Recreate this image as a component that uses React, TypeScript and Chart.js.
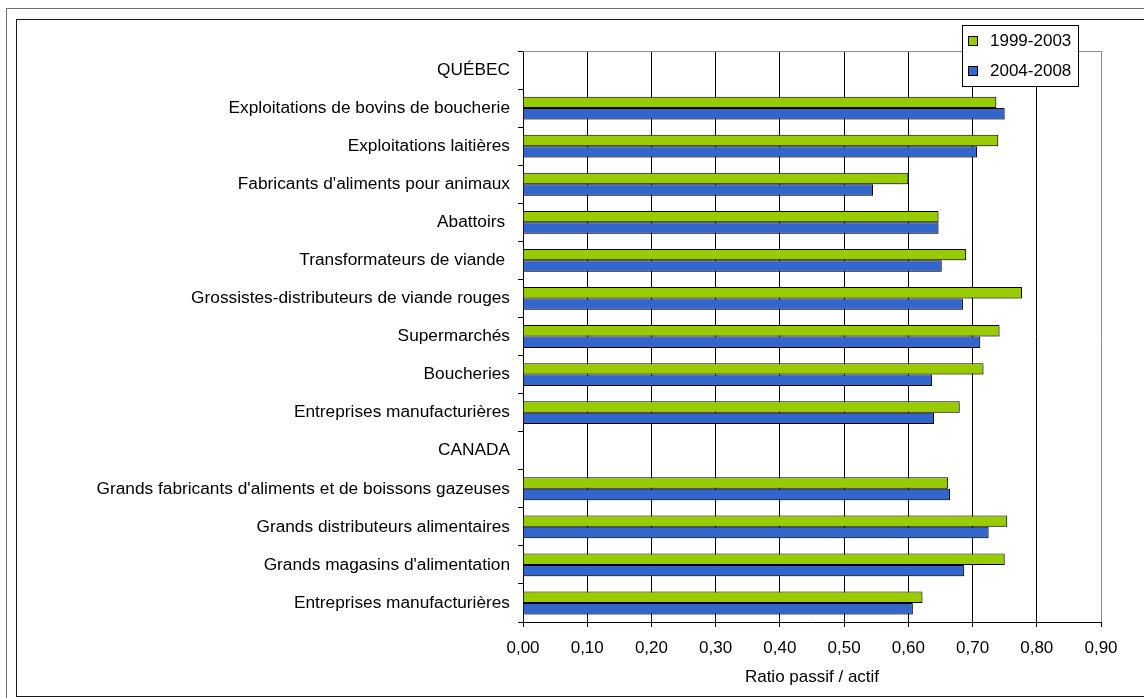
import { useEffect, useRef } from 'react';
import { Chart, registerables } from 'chart.js';

Chart.register(...registerables);

// Secteurs (ordre d'affichage, de haut en bas)
const categories = [
  'QUÉBEC',
  'Exploitations de bovins de boucherie',
  'Exploitations laitières',
  "Fabricants d'aliments pour animaux",
  'Abattoirs ',
  'Transformateurs de viande ',
  'Grossistes-distributeurs de viande rouges',
  'Supermarchés',
  'Boucheries',
  'Entreprises manufacturières',
  'CANADA',
  "Grands fabricants d'aliments et de boissons gazeuses",
  'Grands distributeurs alimentaires',
  "Grands magasins d'alimentation",
  'Entreprises manufacturières',
];

// Ratio passif / actif moyen par période
const ratio19992003 = [null, 0.737, 0.74, 0.6, 0.647, 0.69, 0.777, 0.742, 0.717, 0.68, null, 0.662, 0.754, 0.75, 0.622];
const ratio20042008 = [null, 0.75, 0.707, 0.545, 0.647, 0.652, 0.685, 0.712, 0.637, 0.64, null, 0.665, 0.725, 0.687, 0.607];

const seriesLabels = ['1999-2003', '2004-2008'];
const seriesColors = ['#99CC00', '#3366CC'];

const xTickLabels = ['0,00', '0,10', '0,20', '0,30', '0,40', '0,50', '0,60', '0,70', '0,80', '0,90'];
const xAxisTitle = 'Ratio passif / actif';

const FONT = "'Liberation Sans', Arial, sans-serif";

// Ombre légère sous les barres
const barShadowPlugin = {
  id: 'barShadow',
  beforeDatasetsDraw(chart: any) {
    const ctx = chart.ctx;
    ctx.save();
    ctx.shadowColor = 'rgba(0,0,0,0.22)';
    ctx.shadowOffsetX = 1.5;
    ctx.shadowOffsetY = 1.5;
    ctx.shadowBlur = 0;
  },
  afterDatasetsDraw(chart: any) {
    chart.ctx.restore();
  },
};

// Cadres de la figure, bordure haute de la zone de tracé et légende
const framePlugin = {
  id: 'frames',
  beforeDraw(chart: any) {
    const ctx = chart.ctx;
    ctx.save();
    ctx.fillStyle = '#ffffff';
    ctx.fillRect(0, 0, chart.width, chart.height);
    ctx.lineWidth = 1;
    ctx.strokeStyle = '#6e6e6e';
    ctx.strokeRect(6.5, 8.5, chart.width + 20, chart.height + 20);
    ctx.strokeStyle = '#1a1a1a';
    ctx.strokeRect(16.5, 19.5, chart.width + 20, 696 - 19);
    ctx.restore();
  },
  afterDraw(chart: any) {
    const ctx = chart.ctx;
    const area = chart.chartArea;
    ctx.save();
    ctx.strokeStyle = '#8a8a8a';
    ctx.lineWidth = 1;
    ctx.beginPath();
    ctx.moveTo(area.left, Math.round(area.top) + 0.5);
    ctx.lineTo(area.right, Math.round(area.top) + 0.5);
    ctx.stroke();

    // Légende
    const lx = 962;
    const ly = 25;
    const lw = 116;
    const lh = 61;
    ctx.fillStyle = '#ffffff';
    ctx.fillRect(lx, ly, lw, lh);
    ctx.strokeStyle = '#000000';
    ctx.strokeRect(lx + 0.5, ly + 0.5, lw, lh);
    ctx.font = `17px ${FONT}`;
    ctx.textBaseline = 'middle';
    ctx.textAlign = 'left';
    const rows = [40, 70.5];
    seriesLabels.forEach((label, i) => {
      const cy = rows[i];
      ctx.fillStyle = seriesColors[i];
      ctx.fillRect(968, Math.round(cy - 4.5), 9, 9);
      ctx.strokeStyle = '#000000';
      ctx.strokeRect(968.5, Math.round(cy - 4.5) + 0.5, 9, 9);
      ctx.fillStyle = '#000000';
      ctx.fillText(label, 990, cy + 1);
    });
    ctx.restore();
  },
};

export default function App() {
  const canvasRef = useRef<HTMLCanvasElement | null>(null);

  useEffect(() => {
    document.body.style.margin = '0';
    const canvas = canvasRef.current;
    if (!canvas) return;

    Chart.defaults.font.family = FONT;
    Chart.defaults.font.size = 17;
    Chart.defaults.color = '#000000';

    const chart = new Chart(canvas, {
      type: 'bar',
      data: {
        labels: categories,
        datasets: [
          {
            label: seriesLabels[0],
            data: ratio19992003,
            backgroundColor: seriesColors[0],
            borderColor: '#000000',
            borderWidth: 1,
            barPercentage: 1,
            categoryPercentage: 0.6,
          },
          {
            label: seriesLabels[1],
            data: ratio20042008,
            backgroundColor: seriesColors[1],
            borderColor: '#000000',
            borderWidth: 1,
            barPercentage: 1,
            categoryPercentage: 0.6,
          },
        ],
      },
      options: {
        indexAxis: 'y',
        responsive: false,
        animation: false,
        devicePixelRatio: 1,
        layout: { padding: { left: 0, top: 51, right: 43, bottom: 0 } },
        plugins: {
          legend: { display: false },
          tooltip: { enabled: false },
        },
        scales: {
          x: {
            type: 'linear',
            min: 0,
            max: 0.9,
            ticks: {
              stepSize: 0.1,
              padding: 11,
              font: { size: 17 },
              color: '#000000',
              callback: (_v: any, index: number) => xTickLabels[index],
            },
            grid: {
              display: true,
              drawOnChartArea: true,
              drawTicks: true,
              tickLength: 5,
              lineWidth: 1,
              color: (ctx: any) => (ctx.index === xTickLabels.length - 1 ? '#8a8a8a' : '#000000'),
              tickColor: '#000000',
            },
            border: { display: true, color: '#000000', width: 1 },
            title: {
              display: true,
              text: xAxisTitle,
              font: { size: 17 },
              color: '#000000',
              padding: { top: 0, bottom: 10 },
            },
            afterFit: (scale: any) => {
              scale.height = 76;
            },
          },
          y: {
            type: 'category',
            ticks: {
              padding: 8,
              font: { size: 17.3 },
              color: '#000000',
              autoSkip: false,
            },
            grid: {
              display: true,
              offset: true,
              drawOnChartArea: false,
              drawTicks: true,
              tickLength: 5,
              color: '#000000',
            },
            border: { display: true, color: '#000000', width: 1 },
            afterFit: (scale: any) => {
              scale.width = 523;
            },
          },
        },
      },
      plugins: [framePlugin, barShadowPlugin],
    });

    return () => chart.destroy();
  }, []);

  return (
    <div style={{ position: 'fixed', left: 0, top: 0, width: 1144, height: 698 }}>
      <canvas ref={canvasRef} width={1144} height={698} />
    </div>
  );
}
